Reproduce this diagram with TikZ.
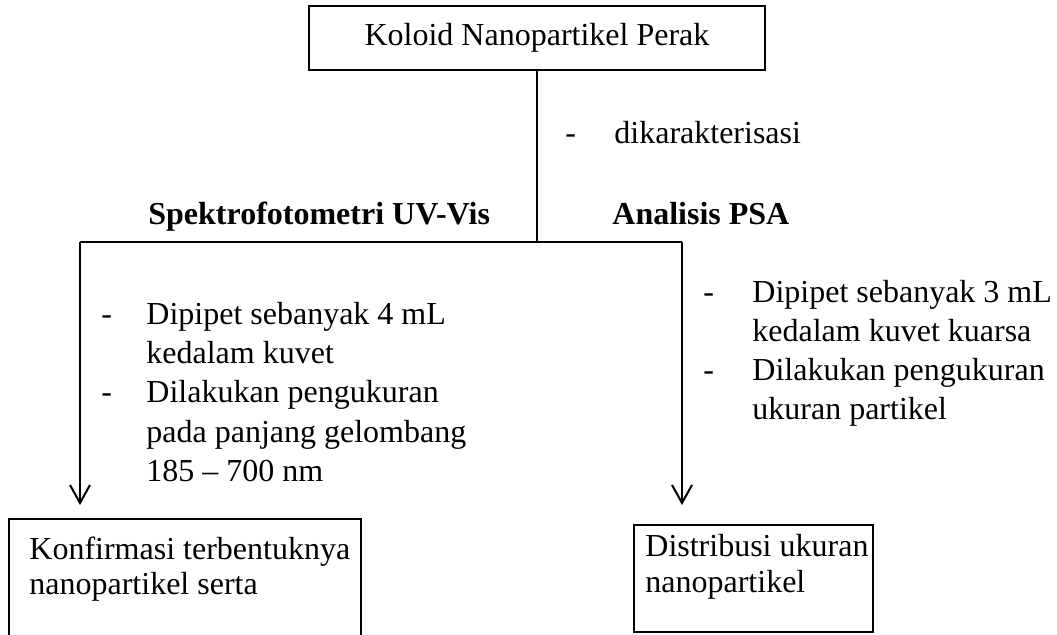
\documentclass[tikz,border=0pt]{standalone}
\usepackage{fontspec}
\setmainfont{Liberation Serif}
\usetikzlibrary{arrows.meta}

\tikzset{
  kotak/.style={draw, line width=1pt, inner sep=0pt},
  teks/.style={font=\fontsize{16}{19}\selectfont, inner sep=0pt, anchor=base west},
  judul/.style={teks, font=\fontsize{16}{19}\selectfont\bfseries},
  garis/.style={line width=1pt},
  panah/.style={line width=1pt, -{Straight Barb[length=9pt, width=10pt]}}
}

\begin{document}
\begin{tikzpicture}[x=0.5pt, y=-0.5pt]
        \useasboundingbox (0,0) rectangle (1057,634);

        % Sampel awal
        \node[kotak, minimum width=228pt, minimum height=32pt] (koloid) at (537,38) {\fontsize{16}{19}\selectfont Koloid Nanopartikel Perak};

        % Percabangan
        \coordinate (cabang) at (537,242);
        \coordinate (kiri) at (80,242);
        \coordinate (kanan) at (682,242);
        \coordinate (ujungkiri) at (80,505);
        \coordinate (ujungkanan) at (682,505);
        \draw[garis] (koloid.south -| cabang) -- (cabang);
        \draw[garis] (kiri) -- (kanan);
        \draw[panah] (kiri) -- (ujungkiri);
        \draw[panah] (kanan) -- (ujungkanan);

        % Keterangan perlakuan
        \node[teks] (strip0) at (565,143) {-};
        \node[teks] (karakter) at (614,143) {dikarakterisasi};
        \node[judul] (uvvis) at (148,224) {Spektrofotometri UV-Vis};
        \node[judul] (psa) at (612,224) {Analisis PSA};

        % Langkah UV-Vis
        \node[teks] (stripa1) at (101,324) {-};
        \node[teks] (uv1) at (146,324) {Dipipet sebanyak 4 mL};
        \node[teks] (uv2) at (146,363) {kedalam kuvet};
        \node[teks] (stripa2) at (101,402) {-};
        \node[teks] (uv3) at (146,402) {Dilakukan pengukuran};
        \node[teks] (uv4) at (146,442) {pada panjang gelombang};
        \node[teks] (uv5) at (146,481) {185 -- 700 nm};

        % Langkah PSA
        \node[teks] (stripb1) at (703,302) {-};
        \node[teks] (psa1) at (752,302) {Dipipet sebanyak 3 mL};
        \node[teks] (psa2) at (752,341) {kedalam kuvet kuarsa};
        \node[teks] (stripb2) at (703,380) {-};
        \node[teks] (psa3) at (752,380) {Dilakukan pengukuran};
        \node[teks] (psa4) at (752,419) {ukuran partikel};

        % Hasil UV-Vis (kotak terpotong di bawah)
        \node[minimum width=175.5pt, minimum height=62pt, inner sep=0pt, anchor=north west] (hasiluv) at (9,519) {};
        \draw[garis] (hasiluv.south west) -- (hasiluv.north west) -- (hasiluv.north east) -- (hasiluv.south east);
        \node[teks] (hasiluv1) at (29,559) {Konfirmasi terbentuknya};
        \node[teks] (hasiluv2) at (29,594) {nanopartikel serta};

        % Hasil PSA
        \node[kotak, minimum width=119.5pt, minimum height=53.5pt] (hasilpsa) at (753.5,578.5) {};
        \node[teks] (hasilpsa1) at (645,556) {Distribusi ukuran};
        \node[teks] (hasilpsa2) at (645,592) {nanopartikel};
\end{tikzpicture}
\end{document}
